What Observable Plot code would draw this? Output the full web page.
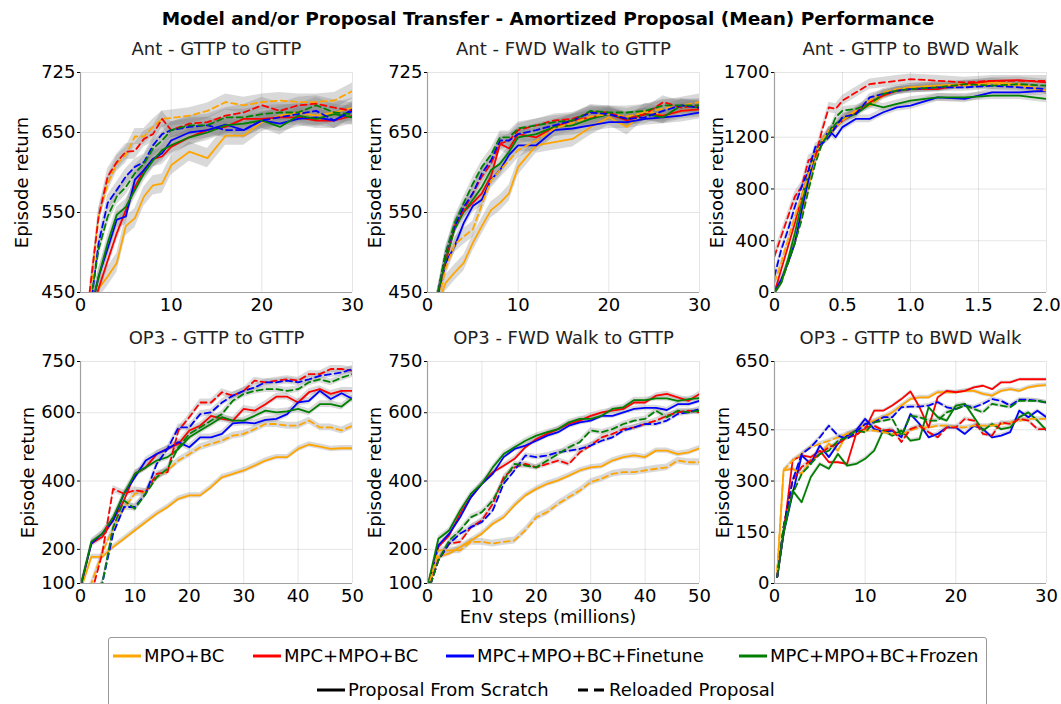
<!DOCTYPE html>
<html><head><meta charset="utf-8">
<script src="https://cdn.jsdelivr.net/npm/d3@7"></script>
<script src="https://cdn.jsdelivr.net/npm/@observablehq/plot@0.6"></script>
<style>
body{margin:0;background:#fff;font-family:"DejaVu Sans",sans-serif;color:#000;}
#wrap{position:relative;width:1061px;height:704px;overflow:hidden;background:#fff;}
.abs{position:absolute;white-space:nowrap;}
.lg{position:absolute;font-size:18px;line-height:18px;white-space:nowrap;}
</style></head><body><div id="wrap"></div>
<script>
// ---------- series meta ----------
const methods = ["MPO+BC","MPC+MPO+BC","MPC+MPO+BC+Finetune","MPC+MPO+BC+Frozen"];
const methodColors = ["#ffa500","#ff0000","#0000ff","#008000"];
const proposals = ["Proposal From Scratch","Reloaded Proposal"];

// ---------- tick labels ----------
const xTicks30 = [0,10,20,30];
const xTicks50 = [0,10,20,30,40,50];
const xTicks2 = [0,0.5,1.0,1.5,2.0];
const antYTicks = [450,550,650,725];
const antBwdYTicks = [0,400,800,1200,1700];
const op3YTicks = [100,200,400,600,750];
const op3BwdYTicks = [0,150,300,450,650];

// ---------- x grids ----------
const antX = [1,2,3,4,5,6,7,8,9,10,12,14,16,18,20,22,24,26,28,30];
const antBwdX = [0,0.05,0.1,0.15,0.2,0.25,0.3,0.35,0.4,0.45,0.5,0.6,0.7,0.8,0.9,1.0,1.2,1.4,1.6,1.8,2.0];
const op3X = [0,2,4,6,8,10,12,14,16,18,20,22,24,26,28,30,32,34,36,38,40,42,44,46,48,50];
const op3BwdX = [0.3,1,2,3,4,5,6,7,8,9,10,11,12,13,14,15,16,17,18,19,20,21,22,23,24,25,26,27,28,29,30];

// ---------- Ant - GTTP to GTTP ----------
const antGG_mpo_s   = [430,455,470,487,533,543,570,584,586,609,626,618,646,646,663,671,675,671,675,681];
const antGG_mpc_s   = [420,455,490,524,553,582,603,617,620,632,644,653,657,667,667,669,669,665,665,671];
const antGG_fine_s  = [420,470,505,541,545,591,603,617,624,640,650,653,660,653,665,661,667,669,665,679];
const antGG_froz_s  = [420,470,512,547,557,578,599,615,628,634,644,650,659,661,665,657,671,667,673,669];
const antGG_mpo_d   = [440,545,586,611,622,645,645,657,667,668,671,677,688,684,688,690,688,688,690,702];
const antGG_mpc_d   = [450,545,595,613,626,627,642,648,667,653,661,663,671,675,684,677,684,686,681,677];
const antGG_fine_d  = [420,512,562,578,595,607,613,634,648,653,657,659,653,653,665,669,673,677,665,677];
const antGG_froz_d  = [430,504,545,570,582,599,611,630,640,653,659,659,669,669,673,675,675,684,675,673];
const antGG_spread  = [12,10,10,10,10,10,10,10];

// ---------- Ant - FWD Walk to GTTP ----------
const antFG_mpo_s   = [430,462,475,487,512,533,553,562,574,607,634,638,642,657,669,657,677,671,677,679];
const antFG_mpc_s   = [440,487,533,551,562,574,595,636,630,648,644,657,665,669,673,665,673,671,677,679];
const antFG_fine_s  = [440,487,508,537,558,566,591,603,622,634,634,653,655,659,663,663,667,669,671,675];
const antFG_froz_s  = [440,491,529,551,566,582,603,611,626,644,648,657,659,667,673,667,673,669,684,681];
const antFG_mpo_d   = [430,480,510,520,529,560,590,603,615,628,640,655,662,670,673,670,675,680,684,688];
const antFG_mpc_d   = [440,495,533,553,574,595,611,636,640,653,659,665,667,675,675,667,673,688,681,684];
const antFG_fine_d  = [440,499,533,557,574,599,615,640,640,648,653,659,665,675,673,667,669,677,684,681];
const antFG_froz_d  = [440,499,537,562,586,607,622,644,644,655,659,663,665,677,675,675,677,684,684,684];
const antFG_spread  = [10,8,8,8,10,8,8,8];

// ---------- Ant - GTTP to BWD Walk ----------
const antGB_mpo_s   = [0,77,230,383,588,818,1022,1176,1201,1278,1342,1406,1444,1521,1559,1585,1598,1610,1623,1610,1559];
const antGB_mpc_s   = [0,179,358,537,741,920,1074,1150,1253,1278,1329,1393,1470,1521,1559,1572,1572,1610,1636,1641,1623];
const antGB_fine_s  = [0,102,230,383,639,869,1074,1150,1253,1201,1278,1342,1342,1393,1431,1444,1508,1496,1547,1547,1559];
const antGB_froz_s  = [0,77,256,460,690,920,1074,1176,1227,1304,1342,1380,1457,1431,1457,1483,1508,1508,1521,1521,1496];
const antGB_mpo_d   = [77,230,409,588,741,920,1074,1176,1253,1278,1329,1406,1483,1547,1572,1585,1598,1598,1610,1598,1559];
const antGB_mpc_d   = [281,435,588,741,818,1022,1048,1253,1431,1419,1483,1547,1610,1623,1636,1649,1636,1623,1636,1636,1636];
const antGB_fine_d  = [128,332,486,665,818,946,1125,1150,1201,1278,1355,1380,1508,1534,1559,1572,1585,1585,1598,1585,1572];
const antGB_froz_d  = [0,77,230,383,562,792,997,1150,1227,1355,1406,1419,1457,1534,1559,1572,1585,1610,1598,1610,1598];
const antGB_spread  = [30,25,30,30,30,40,30,30];

// ---------- OP3 - GTTP to GTTP ----------
const op3GG_mpo_s   = [80,178,178,207,231,256,280,304,324,348,358,358,382,411,421,431,445,460,470,470,494,507,501,494,496,496];
const op3GG_mpc_s   = [90,217,236,285,343,421,440,479,494,509,548,562,591,582,577,611,606,625,647,647,630,660,669,655,664,664];
const op3GG_fine_s  = [90,217,246,285,363,411,460,479,494,514,499,528,528,538,569,572,569,579,582,596,630,635,664,640,657,640];
const op3GG_froz_s  = [90,222,246,294,363,421,440,460,470,494,528,548,567,587,577,577,591,606,601,604,611,601,625,625,618,643];
const op3GG_mpo_d   = [40,100,190,262,320,363,368,411,431,460,479,499,509,518,533,538,552,567,567,562,562,577,557,557,548,562];
const op3GG_mpc_d   = [30,70,188,377,363,373,368,421,426,548,587,630,630,660,650,664,694,689,694,698,694,713,713,728,728,723];
const op3GG_fine_d  = [20,50,100,246,324,324,363,450,494,557,557,596,601,630,650,664,674,689,689,694,689,698,708,713,718,728];
const op3GG_froz_d  = [20,50,100,265,343,319,363,411,436,499,538,557,577,596,635,655,664,669,669,664,669,689,698,689,703,713];
const op3GG_spread  = [8,10,10,10,10,10,10,10];

// ---------- OP3 - FWD Walk to GTTP ----------
const op3FG_mpo_s   = [80,178,188,207,226,246,275,294,329,358,377,392,402,416,431,440,443,460,470,475,470,489,489,479,484,496];
const op3FG_mpc_s   = [90,207,241,304,353,392,426,445,465,499,523,538,552,567,577,591,601,606,611,630,630,650,655,645,635,655];
const op3FG_fine_s  = [90,212,246,294,353,392,421,470,494,504,518,533,543,562,572,577,591,591,601,611,614,614,608,625,625,635];
const op3FG_froz_s  = [90,231,256,314,363,392,440,479,499,518,533,543,552,572,582,582,591,611,616,637,637,642,642,635,640,643];
const op3FG_mpo_d   = [80,197,197,197,222,222,217,222,226,256,294,309,333,353,372,397,407,421,426,426,431,436,440,460,455,455];
const op3FG_mpc_d   = [70,168,217,222,265,285,333,411,440,450,440,450,460,450,484,504,528,538,552,557,567,577,591,601,606,601];
const op3FG_fine_d  = [70,168,217,246,265,280,314,392,431,475,470,475,484,489,494,504,518,528,548,557,567,567,577,596,601,611];
const op3FG_froz_d  = [70,168,226,256,294,309,343,402,450,445,440,460,479,499,514,548,543,552,567,577,582,606,587,606,601,606];
const op3FG_spread  = [8,8,8,8,10,8,8,8];

// ---------- OP3 - GTTP to BWD Walk ----------
const op3GB_mpo_s   = [29,331,336,321,360,379,409,389,438,448,467,477,487,501,521,540,545,545,560,560,560,564,564,555,550,564,569,564,574,579,581];
const op3GB_mpc_s   = [19,146,360,375,370,389,355,355,350,438,452,506,506,521,540,562,516,457,545,564,560,564,574,579,569,589,589,598,598,598,598];
const op3GB_fine_s  = [19,146,263,375,350,404,370,409,433,448,482,452,443,448,428,496,467,428,438,457,457,438,462,452,428,433,443,506,487,506,487];
const op3GB_froz_s  = [19,146,272,238,311,350,336,379,345,350,365,389,448,433,448,418,423,516,487,477,521,526,487,448,467,452,457,487,501,477,448];
const op3GB_mpo_d   = [39,331,360,379,399,409,418,428,438,443,448,448,443,438,438,448,457,457,462,462,457,457,462,462,462,467,472,477,482,482,482];
const op3GB_mpc_d   = [19,165,302,341,360,379,399,409,428,433,457,462,448,452,414,452,462,443,428,457,457,482,477,438,433,472,467,482,477,452,452];
const op3GB_fine_d  = [19,165,302,379,399,428,462,433,423,443,467,472,487,487,516,518,518,521,531,516,511,521,516,526,540,535,521,538,538,535,530];
const op3GB_froz_d  = [19,165,263,321,350,379,389,418,428,448,443,472,477,482,433,491,487,477,477,501,511,521,511,501,526,521,516,535,535,535,530];
const op3GB_spread  = [6,4,6,6,6,6,6,6];

// ---------- panels ----------
const panels = [
  {title:"Ant - GTTP to GTTP", x:antX, xTicks:xTicks30, yTicks:antYTicks, spread:antGG_spread,
   series:[antGG_mpo_s,antGG_mpc_s,antGG_fine_s,antGG_froz_s,antGG_mpo_d,antGG_mpc_d,antGG_fine_d,antGG_froz_d]},
  {title:"Ant - FWD Walk to GTTP", x:antX, xTicks:xTicks30, yTicks:antYTicks, spread:antFG_spread,
   series:[antFG_mpo_s,antFG_mpc_s,antFG_fine_s,antFG_froz_s,antFG_mpo_d,antFG_mpc_d,antFG_fine_d,antFG_froz_d]},
  {title:"Ant - GTTP to BWD Walk", x:antBwdX, xTicks:xTicks2, yTicks:antBwdYTicks, spread:antGB_spread,
   series:[antGB_mpo_s,antGB_mpc_s,antGB_fine_s,antGB_froz_s,antGB_mpo_d,antGB_mpc_d,antGB_fine_d,antGB_froz_d]},
  {title:"OP3 - GTTP to GTTP", x:op3X, xTicks:xTicks50, yTicks:op3YTicks, spread:op3GG_spread,
   series:[op3GG_mpo_s,op3GG_mpc_s,op3GG_fine_s,op3GG_froz_s,op3GG_mpo_d,op3GG_mpc_d,op3GG_fine_d,op3GG_froz_d]},
  {title:"OP3 - FWD Walk to GTTP", x:op3X, xTicks:xTicks50, yTicks:op3YTicks, spread:op3FG_spread,
   series:[op3FG_mpo_s,op3FG_mpc_s,op3FG_fine_s,op3FG_froz_s,op3FG_mpo_d,op3FG_mpc_d,op3FG_fine_d,op3FG_froz_d]},
  {title:"OP3 - GTTP to BWD Walk", x:op3BwdX, xTicks:xTicks30, yTicks:op3BwdYTicks, spread:op3GB_spread,
   series:[op3GB_mpo_s,op3GB_mpc_s,op3GB_fine_s,op3GB_froz_s,op3GB_mpo_d,op3GB_mpc_d,op3GB_fine_d,op3GB_froz_d]}
];

// layout (pixels)
const colLeft = [80, 427, 774];
const rowTop = [72, 361];
const rowH = [220, 222];
const plotW = 272;
const mL = 75, mR = 14, mT = 45, mB = 30;
const labelDx = [-58,-52,-57,-52,-52,-51];

const wrap = document.getElementById("wrap");
const FONT = "'DejaVu Sans', sans-serif";

function rowsFor(p){
  const rows = [];
  p.series.forEach((ys, i) => {
    const m = i % 4, pr = Math.floor(i / 4);
    ys.forEach((y, j) => rows.push({x:p.x[j], y, lo:y - p.spread[i], hi:y + p.spread[i],
      key:i, method:methods[m], proposal:proposals[pr], color:methodColors[m]}));
  });
  return rows;
}

panels.forEach((p, idx) => {
  const col = idx % 3, row = Math.floor(idx / 3);
  const rows = rowsFor(p);
  const xDom = [p.xTicks[0], p.xTicks[p.xTicks.length-1]];
  const yDom = [p.yTicks[0], p.yTicks[p.yTicks.length-1]];
  const fmt = p.xTicks === xTicks2 ? (d => d === 0 ? "0" : d.toFixed(1)) : (d => String(d));
  const svg = Plot.plot({
    width: plotW + mL + mR,
    height: rowH[row] + mT + mB,
    marginLeft: mL, marginRight: mR, marginTop: mT, marginBottom: mB,
    style: {background:"transparent", fontSize:"18px", fontFamily:FONT, overflow:"visible", color:"#000"},
    x: {domain:xDom, ticks:p.xTicks, tickFormat:fmt, grid:true, label:null, tickSize:0, tickPadding:6},
    y: {domain:yDom, ticks:p.yTicks, tickFormat:d => String(d), grid:true, label:null, tickSize:3, tickPadding:2},
    color: {type:"identity"},
    marks: [
      Plot.areaY(rows, {x:"x", y1:"lo", y2:"hi", z:"key", fill:"#808080", fillOpacity:0.3, clip:true}),
      Plot.line(rows.filter(r => r.proposal === proposals[0]), {x:"x", y:"y", z:"key", stroke:"color", strokeWidth:1.8, clip:true}),
      Plot.line(rows.filter(r => r.proposal === proposals[1]), {x:"x", y:"y", z:"key", stroke:"color", strokeWidth:1.8, strokeDasharray:"6,4", clip:true}),
      Plot.ruleX([xDom[0]], {stroke:"#a0a0a0", strokeWidth:1.2}),
      Plot.ruleY([yDom[0]], {stroke:"#a0a0a0", strokeWidth:1.2}),
      Plot.text([p.title], {frameAnchor:"top", lineAnchor:"middle", dy:-23, fontSize:18, fill:"#222"}),
      Plot.text(["Episode return"], {frameAnchor:"left", textAnchor:"middle", lineAnchor:"middle", rotate:-90, dx:labelDx[idx], fontSize:18})
    ]
  });
  svg.style.position = "absolute";
  svg.style.left = (colLeft[col] - mL) + "px";
  svg.style.top = (rowTop[row] - mT) + "px";
  wrap.appendChild(svg);
});

// titles
function addText(txt, cx, cy, css){
  const d = document.createElement("div");
  d.className = "abs";
  d.textContent = txt;
  d.style.cssText += css;
  d.style.left = cx + "px"; d.style.top = cy + "px";
  d.style.transform = "translate(-50%,-50%)";
  wrap.appendChild(d);
}
addText("Model and/or Proposal Transfer - Amortized Proposal (Mean) Performance", 548, 18, "font-weight:bold;font-size:18.5px;");
addText("Env steps (millions)", 548, 617, "font-size:18px;line-height:18px;");

// legend
const box = document.createElement("div");
box.style.cssText = "position:absolute;left:108px;top:637px;width:877px;height:90px;border:1.3px solid #999;border-radius:3px;background:#fff;";
wrap.appendChild(box);
function legendItem(label, color, dashed, lineLeft, cy){
  const s = document.createElementNS("http://www.w3.org/2000/svg","svg");
  s.setAttribute("width", 30); s.setAttribute("height", 6);
  s.style.cssText = `position:absolute;left:${lineLeft}px;top:${cy-3}px;`;
  const l = document.createElementNS("http://www.w3.org/2000/svg","line");
  l.setAttribute("x1",0); l.setAttribute("x2",28); l.setAttribute("y1",3); l.setAttribute("y2",3);
  l.setAttribute("stroke", color); l.setAttribute("stroke-width", 3);
  if (dashed) l.setAttribute("stroke-dasharray","10,6");
  s.appendChild(l);
  wrap.appendChild(s);
  const t = document.createElement("div");
  t.className = "lg"; t.textContent = label;
  t.style.left = (lineLeft + 31) + "px"; t.style.top = (cy - 9) + "px";
  wrap.appendChild(t);
}
const legendLineX = [113, 253, 446, 739];
methods.forEach((m, i) => legendItem(m, methodColors[i], false, legendLineX[i], 656));
legendItem(proposals[0], "#000", false, 317, 690);
legendItem(proposals[1], "#000", true, 578, 690);
</script>
</body></html>
